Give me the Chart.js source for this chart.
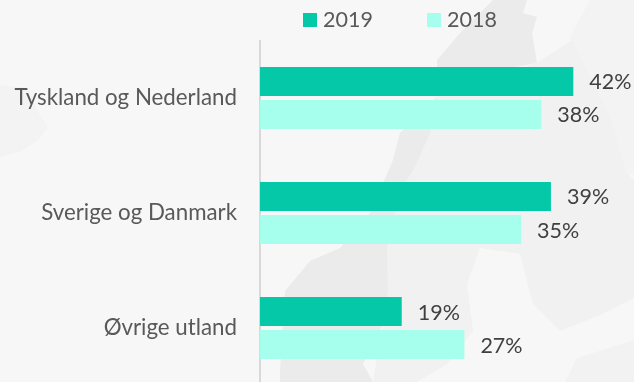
<!DOCTYPE html>
<html>
<head>
<meta charset="utf-8">
<title>Andel per marked</title>
<script src="https://cdn.jsdelivr.net/npm/chart.js@4"></script>
<style>
  html, body { margin: 0; padding: 0; width: 634px; height: 382px; overflow: hidden; background: #f7f7f7; }
  #map { position: absolute; left: 0; top: 0; }
  #wrap { position: absolute; left: 0; top: 0; width: 634px; height: 422px; }
</style>
</head>
<body>
<!-- faint map behind the chart -->
<svg id="map" width="634" height="382">
  <path fill="#f3f3f3" d="M0 85 L28 88 L38 112 L48 128 L38 140 L20 152 L0 157 Z"/>
  <path fill="#f3f3f3" d="M570 37 L590 0 L634 0 L634 175 L627 173 L610 117 L580 70 Z"/>
  <path fill="#f1f1f1" d="M537 63 L572 40 L610 117 L627 173 L634 180 L634 298 L600 315 L560 331 L533 304 L520 254 L545 190 L535 140 Z"/>
  <path fill="#f1f1f1" d="M400 133 L437 97 L537 63 L535 140 L545 190 L520 254 L480 248 L467 284 L473 331 L447 364 L417 382 L373 382 L388 291 L387 248 L393 160 Z"/>
  <path fill="#ebebeb" d="M437 60 L460 33 L493 0 L527 0 L523 13 L537 17 L532 33 L537 63 L500 70 L437 97 L430 133 L415 167 L400 190 L387 248 L388 291 L383 324 L363 364 L373 382 L280 382 L280 371 L285 291 L310 261 L340 248 L370 213 L393 160 L400 133 L437 97 Z"/>
  <path fill="#f2f2f2" d="M577 358 L634 340 L634 382 L565 382 Z"/>
</svg>
<div id="wrap"><canvas id="chart" width="634" height="422"></canvas></div>
<script>
const categories = ["Tyskland og Nederland", "Sverige og Danmark", "Øvrige utland"];
const values2019 = [42, 39, 19];
const values2018 = [37.7, 35, 27.4];
const seriesLabels = ["2019", "2018"];
const fontName = "Lato, Carlito, sans-serif";

// Value labels at the end of each bar
const barLabels = {
  id: "barLabels",
  afterDatasetsDraw(chart) {
    const ctx = chart.ctx;
    ctx.save();
    ctx.font = "21.5px " + fontName;
    ctx.fillStyle = "#404040";
    ctx.textAlign = "left";
    ctx.textBaseline = "middle";
    chart.data.datasets.forEach((ds, i) => {
      chart.getDatasetMeta(i).data.forEach((bar, j) => {
        ctx.fillText(Math.round(ds.data[j]) + "%", bar.x + 16, bar.y + 1);
      });
    });
    ctx.restore();
  },
};

// Legend sits over the plot area, not centred on the page
const topLegend = {
  id: "topLegend",
  afterDraw(chart) {
    const ctx = chart.ctx;
    const starts = [303, 427];
    ctx.save();
    ctx.font = "21.5px " + fontName;
    ctx.textAlign = "left";
    ctx.textBaseline = "middle";
    chart.data.datasets.forEach((ds, i) => {
      ctx.fillStyle = ds.backgroundColor;
      ctx.fillRect(starts[i], 13, 14, 14);
      ctx.fillStyle = "#595959";
      ctx.fillText(ds.label, starts[i] + 20, 20.5);
    });
    ctx.restore();
  },
};

new Chart(document.getElementById("chart").getContext("2d"), {
  type: "bar",
  data: {
    labels: categories,
    datasets: [
      { label: seriesLabels[0], data: values2019, backgroundColor: "#04C8A8" },
      { label: seriesLabels[1], data: values2018, backgroundColor: "#A5FFEC" },
    ],
  },
  options: {
    indexAxis: "y",
    responsive: false,
    animation: false,
    categoryPercentage: 0.574,
    barPercentage: 0.879,
    layout: { padding: { top: 40.5, bottom: 12.5, right: 1 } },
    plugins: {
      legend: { display: false },
      tooltip: { enabled: false },
    },
    scales: {
      x: { display: false, min: 0, max: 50 },
      y: {
        afterFit(scale) {
          scale.width = 260;
        },
        grid: { display: false, drawTicks: false },
        border: { display: true, color: "#d9d9d9", width: 2 },
        ticks: {
          color: "#595959",
          padding: 23,
          font: { family: fontName, size: 22.3 },
        },
      },
    },
  },
  plugins: [barLabels, topLegend],
});
</script>
</body>
</html>
